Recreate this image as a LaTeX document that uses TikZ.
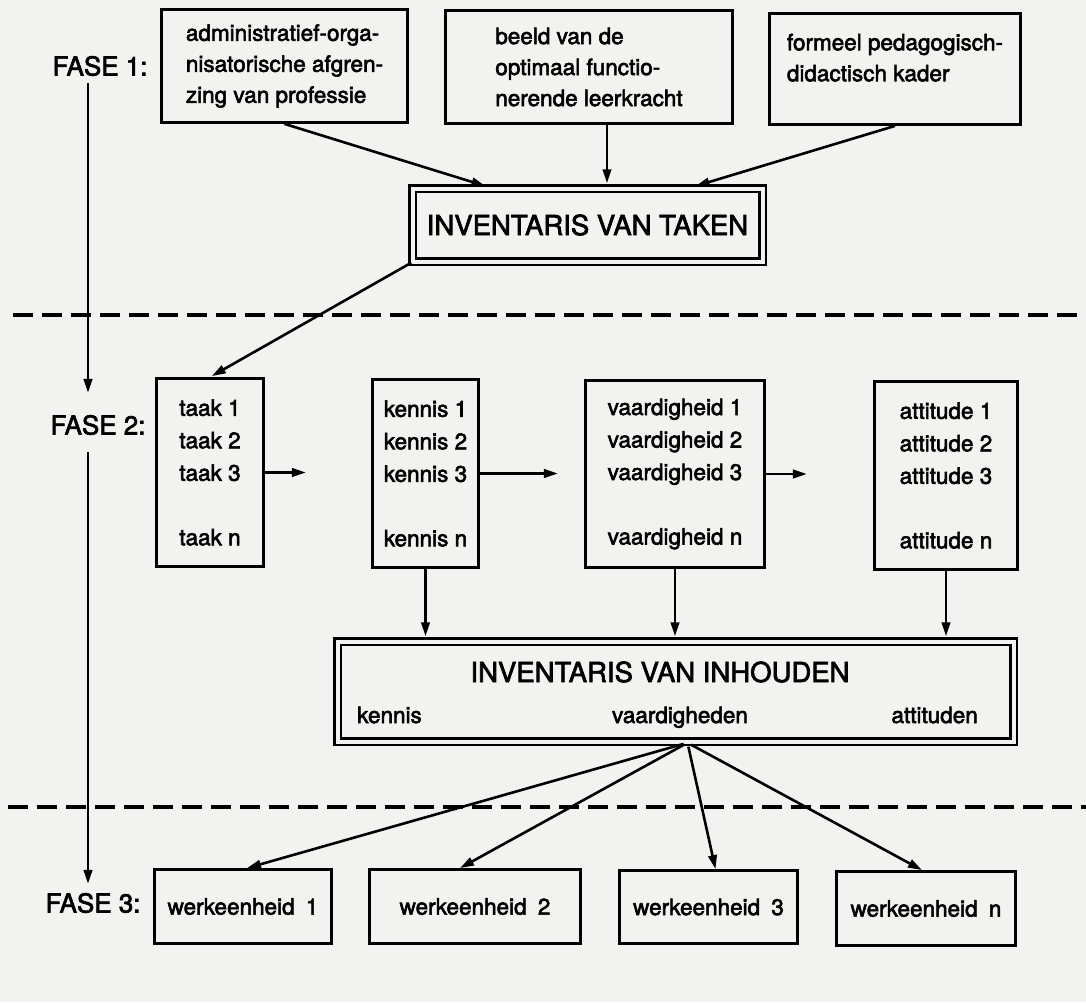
\documentclass[tikz,border=0pt]{standalone}
\usepackage{fontspec}
\setmainfont{TeX Gyre Heros}[FakeBold=2.5]
\usetikzlibrary{arrows.meta}
\definecolor{paper}{RGB}{242,242,240}

\begin{document}
\begin{tikzpicture}[x=1pt,y=-1pt,
    box/.style={draw,line width=2.8pt,align=left,inner sep=0pt,font=\fontsize{22.5}{31}\selectfont},
    lijst/.style={box,font=\fontsize{22.5}{32.5}\selectfont},
    tekst/.style={inner sep=0pt,font=\fontsize{22.5}{31}\selectfont},
    dbox/.style={draw,line width=2.5pt,double=paper,double distance=4pt,inner sep=0pt},
    kop/.style={inner sep=0pt,font=\fontsize{27.5}{32}\selectfont},
    fase/.style={inner sep=2pt,font=\fontsize{26}{30}\selectfont},
    pijl/.style={line width=2.6pt,-{Triangle[length=14pt,width=8.5pt]}},
    grens/.style={line width=3.4pt,dash pattern=on 20pt off 9pt}]
  \fill[paper] (0,0) rectangle (1086,1002);
  \useasboundingbox (0,0) rectangle (1086,1002);

  % fase 1
  \node[fase] (fase1) at (100,66) {FASE 1:};
  \node[box,minimum width=246pt,minimum height=113pt] (admin) at (284.5,66)
    {administratief-orga-\\nisatorische afgren-\\zing van professie};
  \node[box,minimum width=287pt,minimum height=113pt] (beeld) at (589,67)
    {beeld van de\\optimaal functio-\\nerende leerkracht};
  \node[box,minimum width=251pt,minimum height=111pt] (kader) at (895,69)
    {formeel pedagogisch-\\didactisch kader\\[-8pt]};
  \node[dbox,kop,minimum width=350pt,minimum height=73pt] (taken) at (587.5,225)
    {INVENTARIS VAN TAKEN};
  \draw[pijl,shorten >=4pt] (admin.south) -- ([xshift=78pt]taken.north west);
  \draw[pijl,shorten >=4pt] ([xshift=18pt]beeld.south) -- ([xshift=18pt]beeld.south |- taken.north);
  \draw[pijl,shorten >=4pt] (kader.south) -- ([xshift=-72pt]taken.north east);

  \draw[grens] (13,315) -- (1086,315);

  % fase 2
  \node[fase] (fase2) at (98,425) {FASE 2:};
  \node[lijst,minimum width=107pt,minimum height=188pt] (taak) at (210,472.5)
    {taak 1\\taak 2\\taak 3\\[32pt]taak n};
  \node[lijst,minimum width=106pt,minimum height=188pt] (kennis) at (425.5,473.5)
    {kennis 1\\kennis 2\\kennis 3\\[32pt]kennis n};
  \node[lijst,minimum width=179pt,minimum height=187pt] (vaard) at (675,474)
    {vaardigheid 1\\vaardigheid 2\\vaardigheid 3\\[32pt]vaardigheid n};
  \node[lijst,minimum width=143pt,minimum height=188pt] (attit) at (946,475.5)
    {attitude 1\\attitude 2\\attitude 3\\[32pt]attitude n};
  \draw[pijl,shorten >=2pt] (taken.south west) -- (taak.north);
  \draw[pijl] (taak.east) -- ++(41,0);
  \draw[pijl] (kennis.east) -- ++(78,0);
  \draw[pijl] (vaard.east) -- ++(41,0);

  \node[dbox,minimum width=676pt,minimum height=100pt] (inhoud) at (675.5,691.5) {};
  \node[kop,anchor=base] (inhoudkop) at (660,682) {INVENTARIS VAN INHOUDEN};
  \node[tekst,anchor=base west] (ikennis) at (357,723) {kennis};
  \node[tekst,anchor=base] (ivaard) at (680,723) {vaardigheden};
  \node[tekst,anchor=base east] (iattit) at (978,723) {attituden};
  \foreach \b in {kennis,vaard,attit}
    \draw[pijl,shorten >=4pt] (\b.south) -- (\b.south |- inhoud.north);

  \draw[grens] (8,807) -- (1086,807);

  % fase 3
  \node[fase] (fase3) at (93,903) {FASE 3:};
  \node[box,align=center,minimum width=177pt,minimum height=74pt] (werk1) at (243,906.5) {werkeenheid\enspace 1};
  \node[box,align=center,minimum width=211pt,minimum height=74pt] (werk2) at (475,906.5) {werkeenheid\enspace 2};
  \node[box,align=center,minimum width=178pt,minimum height=73pt] (werk3) at (708.5,907) {werkeenheid\enspace 3};
  \node[box,align=center,minimum width=179pt,minimum height=74pt] (werkn) at (926,908.5) {werkeenheid\enspace n};
  \coordinate (splits) at ([xshift=12pt]inhoud.south);
  \foreach \w/\d in {werk1/4,werk2/-15,werk3/7,werkn/-4}
    \draw[pijl,shorten <=4pt] (splits) -- ([xshift=\d pt]\w.north);

  \coordinate (lijn) at (88,0);
  \draw[pijl,shorten <=5pt,shorten >=20pt] (fase1.south -| lijn) -- (fase2.north -| lijn);
  \draw[pijl,shorten <=15pt,shorten >=7pt] (fase2.south -| lijn) -- (fase3.north -| lijn);
\end{tikzpicture}
\end{document}
